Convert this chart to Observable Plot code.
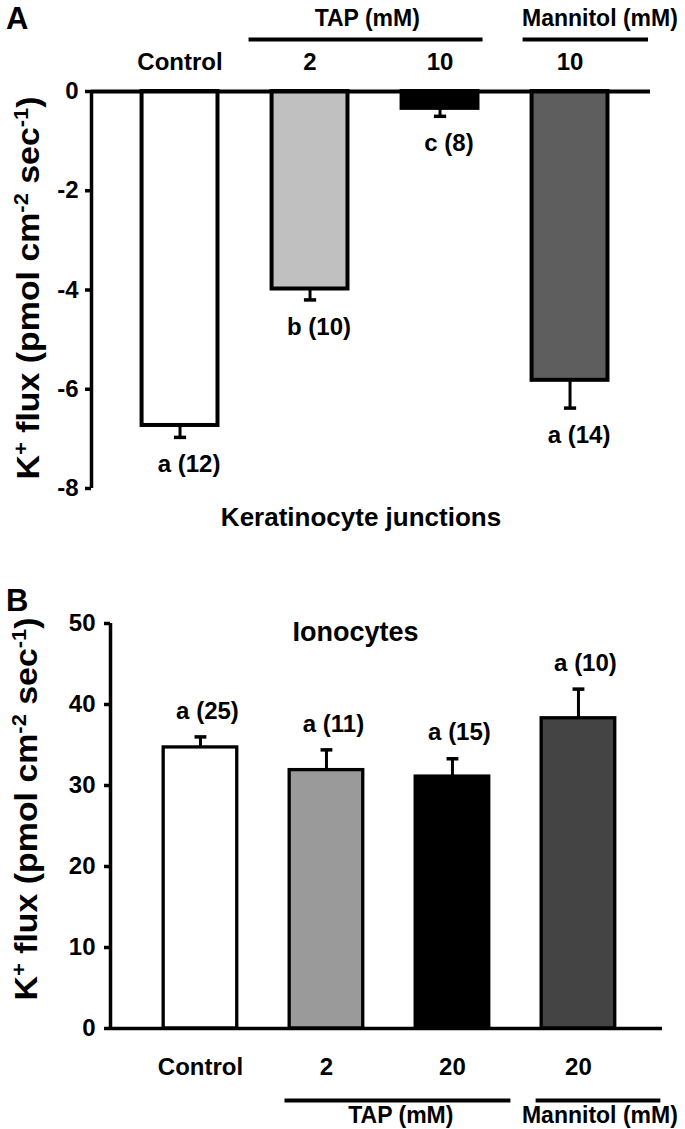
<!DOCTYPE html>
<html>
<head>
<meta charset="utf-8">
<script src="https://cdn.jsdelivr.net/npm/d3@7"></script>
<script src="https://cdn.jsdelivr.net/npm/@observablehq/plot@0.6"></script>
<style>
  body { margin: 0; background: #fff; }
  #wrap { position: relative; width: 685px; height: 1129px; overflow: hidden; }
  .letter { position: absolute; font: bold 31px "Liberation Sans", Arial, sans-serif; color: #000; }
  svg { display: block; }
</style>
</head>
<body>
<div id="wrap">
  <div id="a"></div>
  <div id="b"></div>
  <div class="letter" style="left:6px;top:1px">A</div>
  <div class="letter" style="left:6px;top:583px">B</div>
</div>
<script>
// ---------- Data: panel A (Keratinocyte junctions) ----------
const categoriesA = ["Control", "2", "10", "10"];
const fluxA = [-6.73, -3.98, -0.34, -5.82];
const errA = [0.24, 0.22, 0.16, 0.56];
const lettersA = ["a", "b", "c", "a"];
const nA = [12, 10, 8, 14];
const ticksA = [0, -2, -4, -6, -8];
const groupLabelsA = ["TAP (mM)", "Mannitol (mM)"];
const titleA = "Keratinocyte junctions";

// ---------- Data: panel B (Ionocytes) ----------
const categoriesB = ["Control", "2", "20", "20"];
const fluxB = [34.7, 31.9, 31.1, 38.3];
const errB = [1.3, 2.5, 2.2, 3.6];
const lettersB = ["a", "a", "a", "a"];
const nB = [25, 11, 15, 10];
const ticksB = [0, 10, 20, 30, 40, 50];
const groupLabelsB = ["TAP (mM)", "Mannitol (mM)"];
const titleB = "Ionocytes";

const yTitle = "K+ flux (pmol cm-2 sec-1)";

// ---------- Styles / layout ----------
const fillsA = ["#ffffff", "#c0c0c0", "#000000", "#5e5e5e"];
const fillsB = ["#ffffff", "#9a9a9a", "#000000", "#444444"];
const FONT = '"Liberation Sans", Arial, Helvetica, sans-serif';
const HW = 0.292, CAP = 0.047;
const LABEL = 24, GROUP = 23;
// group bracket extents (in category-index units) and label centres
const spansA = [[0.527, 2.327, 1.44], [2.635, 3.60, 3.23]];
const spansB = [[0.667, 2.46, 1.59], [2.66, 3.65, 3.17]];

function rows(cats, vals, errs, lets, ns, fills) {
  return cats.map((c, i) => ({i, cat: c, v: vals[i], e: errs[i], lab: `${lets[i]} (${ns[i]})`, fill: fills[i]}));
}
const rowsA = rows(categoriesA, fluxA, errA, lettersA, nA, fillsA);
const rowsB = rows(categoriesB, fluxB, errB, lettersB, nB, fillsB);

const groupsA = groupLabelsA.map((g, k) => ({g, x1: spansA[k][0], x2: spansA[k][1], xc: spansA[k][2]}));
const groupsB = groupLabelsB.map((g, k) => ({g, x1: spansB[k][0], x2: spansB[k][1], xc: spansB[k][2]}));

const baseStyle = {fontFamily: FONT, fontWeight: "bold", fontSize: "24px", color: "#000", background: "#fff", overflow: "visible"};

// ---------- Panel A ----------
const xMinA = -0.681, xMaxA = 3.619;
const plotA = Plot.plot({
  width: 685, height: 580,
  marginTop: 91, marginBottom: 92, marginLeft: 91, marginRight: 35,
  style: baseStyle,
  x: {domain: [xMinA, xMaxA], axis: null},
  y: {domain: [-8, 0], axis: null},
  color: {type: "identity"},
  marks: [
    Plot.rectY(rowsA, {x1: d => d.i - HW, x2: d => d.i + HW, y1: 0, y2: "v", fill: "fill", stroke: "#000", strokeWidth: 4}),
    Plot.ruleX(rowsA, {x: "i", y1: "v", y2: d => d.v - d.e, stroke: "#000", strokeWidth: 3}),
    Plot.link(rowsA, {x1: d => d.i - CAP, x2: d => d.i + CAP, y1: d => d.v - d.e, y2: d => d.v - d.e, stroke: "#000", strokeWidth: 3.5}),
    Plot.ruleY([0], {stroke: "#000", strokeWidth: 4}),
    Plot.ruleX([xMinA], {y1: -8, y2: 0, stroke: "#000", strokeWidth: 3.5}),
    Plot.axisY(ticksA, {tickSize: 6, tickPadding: 7, strokeWidth: 3.5, tickFormat: d => String(d), fontSize: LABEL, fontWeight: "bold", label: null}),
    Plot.text(rowsA, {x: "i", y: d => d.v - d.e, text: "lab", dy: 27, dx: 9, fontSize: LABEL, fontWeight: "bold"}),
    Plot.text(rowsA, {x: "i", y: 0, text: "cat", dy: -29, fontSize: LABEL, fontWeight: "bold"}),
    Plot.link(groupsA, {x1: "x1", x2: "x2", y1: 1.05, y2: 1.05, stroke: "#000", strokeWidth: 4}),
    Plot.text(groupsA, {x: "xc", y: 1.46, text: "g", fontSize: GROUP, fontWeight: "bold"}),
    Plot.text([titleA], {frameAnchor: "bottom", lineAnchor: "middle", dx: -10, dy: 29, fontSize: 26, fontWeight: "bold"}),
    Plot.text([yTitle], {frameAnchor: "left", textAnchor: "middle", lineAnchor: "middle", rotate: -90, dx: -62, dy: -2, fontSize: 31, fontWeight: "bold"})
  ]
});
document.getElementById("a").appendChild(plotA);

// ---------- Panel B ----------
const xMinB = -0.714, xMaxB = 3.667;
const plotB = Plot.plot({
  width: 685, height: 549,
  marginTop: 43, marginBottom: 101, marginLeft: 110, marginRight: 23,
  style: baseStyle,
  x: {domain: [xMinB, xMaxB], axis: null},
  y: {domain: [0, 50], axis: null},
  color: {type: "identity"},
  marks: [
    Plot.rectY(rowsB, {x1: d => d.i - HW, x2: d => d.i + HW, y1: 0, y2: "v", fill: "fill", stroke: "#000", strokeWidth: 3.3}),
    Plot.ruleX(rowsB, {x: "i", y1: "v", y2: d => d.v + d.e, stroke: "#000", strokeWidth: 3}),
    Plot.link(rowsB, {x1: d => d.i - CAP, x2: d => d.i + CAP, y1: d => d.v + d.e, y2: d => d.v + d.e, stroke: "#000", strokeWidth: 3.5}),
    Plot.ruleY([0], {stroke: "#000", strokeWidth: 3.5}),
    Plot.ruleX([xMinB], {y1: 0, y2: 50, stroke: "#000", strokeWidth: 3.5}),
    Plot.axisY(ticksB, {tickSize: 6, tickPadding: 9, strokeWidth: 3.5, tickFormat: d => String(d), fontSize: LABEL, fontWeight: "bold", label: null}),
    Plot.text(rowsB, {x: "i", y: d => d.v + d.e, text: "lab", dy: -26, dx: 7, fontSize: LABEL, fontWeight: "bold"}),
    Plot.text(rowsB, {x: "i", y: 0, text: "cat", dy: 39, fontSize: LABEL, fontWeight: "bold"}),
    Plot.link(groupsB, {x1: "x1", x2: "x2", y1: -8.9, y2: -8.9, stroke: "#000", strokeWidth: 4}),
    Plot.text(groupsB, {x: "xc", y: -10.75, text: "g", fontSize: GROUP, fontWeight: "bold"}),
    Plot.text([titleB], {frameAnchor: "top", lineAnchor: "middle", dx: -31, dy: 9, fontSize: 27, fontWeight: "bold"}),
    Plot.text([yTitle], {frameAnchor: "left", textAnchor: "middle", lineAnchor: "middle", rotate: -90, dx: -83, dy: -17, fontSize: 31, fontWeight: "bold"})
  ]
});
document.getElementById("b").appendChild(plotB);

// ---------- Superscripts in the y-axis titles ----------
function superscriptify(svg) {
  svg.querySelectorAll("text").forEach(t => {
    if (t.textContent !== yTitle) return;
    const parts = [["K", 0], ["+", 1], [" flux (pmol cm", 0], ["-2", 1], [" sec", 0], ["-1", 1], [")", 0]];
    while (t.firstChild) t.removeChild(t.firstChild);
    let up = false;
    for (const [s, sup] of parts) {
      const ts = document.createElementNS("http://www.w3.org/2000/svg", "tspan");
      ts.textContent = s;
      if (sup) { ts.setAttribute("font-size", "20"); ts.setAttribute("dy", "-11"); up = true; }
      else if (up) { ts.setAttribute("dy", "11"); up = false; }
      t.appendChild(ts);
    }
    t.setAttribute("textLength", "383");
    t.setAttribute("lengthAdjust", "spacingAndGlyphs");
  });
}
superscriptify(plotA);
superscriptify(plotB);
</script>
</body>
</html>
